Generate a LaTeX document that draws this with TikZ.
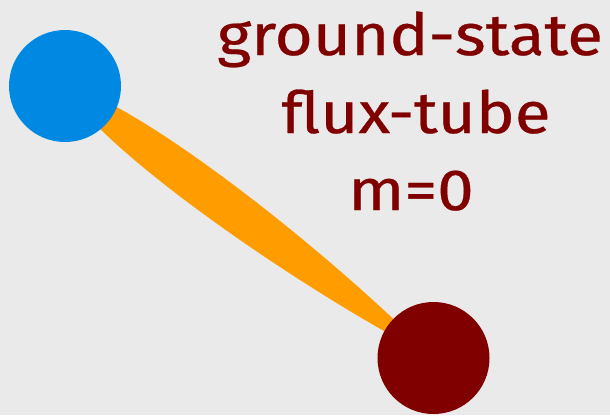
\documentclass[tikz,border=0pt]{standalone}
\usepackage{fontspec}
\newfontfamily\lblfont{Fira Sans}[FakeBold=0.5]
\definecolor{bg}{HTML}{EAEAEA}
\definecolor{qblue}{HTML}{0088E2}
\definecolor{qred}{HTML}{800000}
\definecolor{tube}{HTML}{FF9C00}
\begin{document}
\begin{tikzpicture}[x=1pt,y=-1pt,
  quark/.style={circle, fill=#1, draw=none, minimum size=112pt, inner sep=0pt},
  lbl/.style={anchor=base, text=qred, inner sep=0pt, xscale=1.13, font=\lblfont\fontsize{58}{60}\selectfont}]
\fill[bg] (0,0) rectangle (610,415);
\useasboundingbox (0,0) rectangle (610,415);
\coordinate (b) at (65,86);
\coordinate (r) at (433.5,358);
\fill[tube] (b) .. controls (131,97.5) and (321.1,244.1) .. (r)
  .. controls (291.3,284.3) and (95.4,145.7) .. (b) -- cycle;
\node[quark=qblue] (blue) at (b) {};
\node[quark=qred] (red) at (r) {};
\node[lbl] (l1) at (410,55) {ground-state};
\node[lbl] (l2) at (416,133) {flux-tube};
\node[lbl] (l3) at (411,210) {m=0};
\end{tikzpicture}
\end{document}
